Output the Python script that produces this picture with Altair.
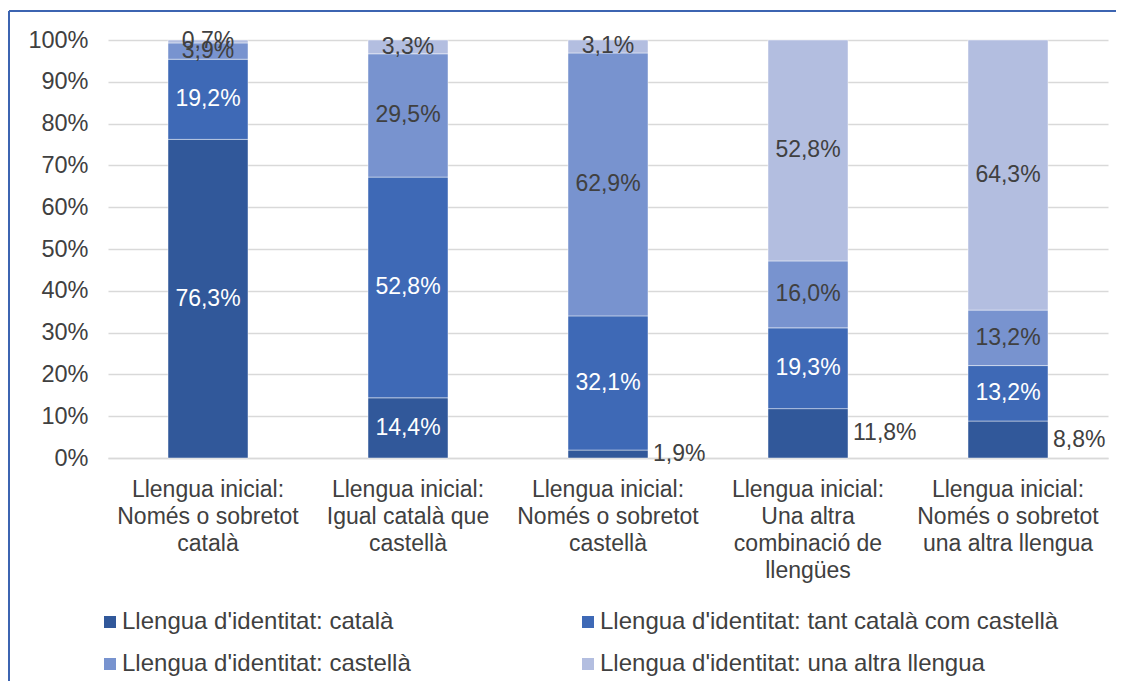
import altair as alt
import pandas as pd

categories = [
    "Llengua inicial:\nNomés o sobretot\ncatalà",
    "Llengua inicial:\nIgual català que\ncastellà",
    "Llengua inicial:\nNomés o sobretot\ncastellà",
    "Llengua inicial:\nUna altra\ncombinació de\nllengües",
    "Llengua inicial:\nNomés o sobretot\nuna altra llengua",
]
series = [
    "Llengua d'identitat: català",
    "Llengua d'identitat: tant català com castellà",
    "Llengua d'identitat: castellà",
    "Llengua d'identitat: una altra llengua",
]
catala = [76.3, 14.4, 1.9, 11.8, 8.8]
tant = [19.2, 52.8, 32.1, 19.3, 13.2]
castella = [3.9, 29.5, 62.9, 16.0, 13.2]
altra = [0.7, 3.3, 3.1, 52.8, 64.3]
catala_label_outside = [False, False, True, True, True]

colors = ["#31589A", "#3E69B6", "#7893CF", "#B3BEE0"]
white_label = [True, True, False, False]

rows = []
for ci, cat in enumerate(categories):
    for si, (s, vals) in enumerate(zip(series, [catala, tant, castella, altra])):
        rows.append({
            "cat": cat,
            "serie": s,
            "order": si,
            "value": vals[ci],
            "white": white_label[si],
            "outside": si == 0 and catala_label_outside[ci],
        })
df = pd.DataFrame(rows)

base = alt.Chart(df).transform_stack(
    stack="value", as_=["y0", "y1"], groupby=["cat"],
    sort=[alt.SortField("order", order="ascending")], offset="normalize"
).transform_calculate(
    mid="(datum.y0 + datum.y1) / 2",
    lbl="replace(format(datum.value, '.1f'), '.', ',') + '%'"
)

xenc = alt.X("cat:N", sort=categories, title=None,
             scale=alt.Scale(paddingInner=0.6, paddingOuter=0.3),
             axis=alt.Axis(labelAngle=0, labelExpr="split(datum.label, '\\n')",
                           labelFontSize=23, labelColor="#404040", labelLineHeight=27,
                           labelPadding=20, ticks=False, domain=True, domainColor="#D9D9D9",
                           domainWidth=1.5, labelBaseline="top", labelLimit=300))

bars = base.mark_bar(stroke="#ffffff", strokeOpacity=0.45, strokeWidth=1).encode(
    x=xenc,
    y=alt.Y("y0:Q", scale=alt.Scale(domain=[0, 1]), title=None,
            axis=alt.Axis(format=".0%", values=[i / 10 for i in range(11)],
                          labelFontSize=23.5, labelColor="#404040", labelPadding=20,
                          ticks=False, domain=False, gridColor="#D9D9D9", gridWidth=1.5)),
    y2="y1:Q",
    color=alt.Color("serie:N", scale=alt.Scale(domain=series, range=colors),
                    legend=alt.Legend(title=None, orient="none", legendX=-10, legendY=570,
                                      direction="horizontal",
                                      columns=2, columnPadding=165, rowPadding=18,
                                      symbolType="square", symbolSize=144, symbolStrokeWidth=0,
                                      labelFontSize=24, labelColor="#404040", labelOffset=0,
                                      labelLimit=600, padding=0)),
)

inside = base.transform_filter("!datum.outside").mark_text(
    fontSize=23, baseline="middle", align="center"
).encode(
    x=alt.X("cat:N", sort=categories),
    y=alt.Y("mid:Q"),
    text="lbl:N",
    color=alt.condition("datum.white", alt.value("#ffffff"), alt.value("#404040")),
)

outside = base.transform_filter("datum.outside").mark_text(
    fontSize=23, baseline="middle", align="left", dx=45, color="#404040"
).encode(
    x=alt.X("cat:N", sort=categories),
    y=alt.Y("mid:Q"),
    text="lbl:N",
)

frame_df = pd.DataFrame({"k": [0]})
left_border = alt.Chart(frame_df).mark_rule(color="#3C64B1", strokeWidth=2).encode(
    x=alt.value(-99), y=alt.value(-29), y2=alt.value(700))
top_border = alt.Chart(frame_df).mark_rule(color="#3C64B1", strokeWidth=2).encode(
    x=alt.value(-99), x2=alt.value(1200), y=alt.value(-29))

chart = alt.layer(bars, inside, outside, left_border, top_border).properties(
    width=1000, height=418,
    autosize=alt.AutoSizeParams(type="none"),
    padding={"left": 100, "top": 32, "right": 8, "bottom": 223},
).configure(font="Liberation Sans").configure_view(stroke=None)

chart.save("out.html", embed_options={"renderer": "svg", "actions": False})
